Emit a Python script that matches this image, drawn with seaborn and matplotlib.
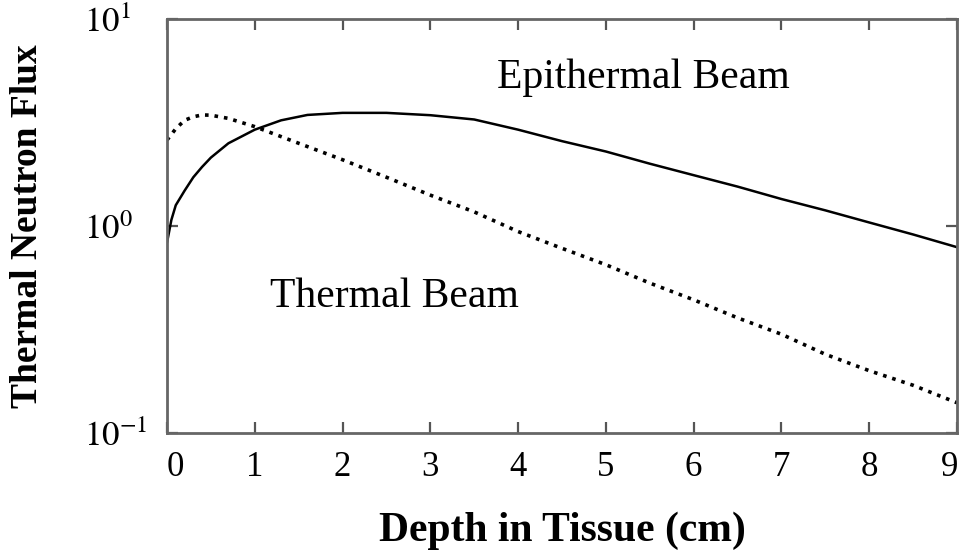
import matplotlib
matplotlib.use("Agg")
import matplotlib.pyplot as plt
import matplotlib.transforms as mtransforms
import seaborn as sns
import pandas as pd

# Thermal beam (dotted curve)
thermal_depth = [0, 0.1, 0.2, 0.3, 0.4, 0.5, 0.7, 1.0, 1.5, 2.0, 2.5, 3.0,
                 3.5, 4.0, 4.5, 5.0, 5.5, 6.0, 6.5, 7.0, 7.5, 8.0, 8.5, 9.0]
thermal_flux = [2.60, 2.95, 3.24, 3.37, 3.44, 3.43, 3.31, 3.02, 2.51, 2.09, 1.72, 1.41,
                1.17, 0.94, 0.78, 0.65, 0.53, 0.44, 0.36, 0.30, 0.24, 0.20, 0.17, 0.14]

# Epithermal beam (solid curve)
epi_depth = [0, 0.05, 0.1, 0.2, 0.3, 0.4, 0.5, 0.7, 1.0, 1.3, 1.6, 2.0, 2.5,
             3.0, 3.5, 4.0, 4.5, 5.0, 5.5, 6.0, 6.5, 7.0, 7.5, 8.0, 8.5, 9.0]
epi_flux = [0.83, 1.07, 1.26, 1.48, 1.72, 1.93, 2.14, 2.51, 2.92, 3.24, 3.44, 3.52, 3.52,
            3.43, 3.27, 2.92, 2.57, 2.29, 2.00, 1.76, 1.55, 1.35, 1.19, 1.04, 0.91, 0.79]

x_ticks = list(range(10))
y_ticks = [0.1, 1, 10]
y_tick_labels = [r"$10^{-1}$", r"$10^{0}$", r"$10^{1}$"]

sns.set_style("white")
plt.rcParams['font.family'] = ['Liberation Serif', 'DejaVu Serif']
plt.rcParams['mathtext.fontset'] = 'stix'
plt.rcParams['text.color'] = 'black'
plt.rcParams['xtick.labelcolor'] = 'black'
plt.rcParams['ytick.labelcolor'] = 'black'
plt.rcParams['axes.labelcolor'] = 'black'

fig = plt.figure(figsize=(9.63, 5.54), dpi=100)
ax = fig.add_axes([0.1734, 0.2184, 0.8204, 0.7473])

thermal = pd.DataFrame({"depth": thermal_depth, "flux": thermal_flux})
epi = pd.DataFrame({"depth": epi_depth, "flux": epi_flux})

sns.lineplot(data=thermal, x="depth", y="flux", ax=ax, color="black",
             lw=2.6, linestyle=":")
sns.lineplot(data=epi, x="depth", y="flux", ax=ax, color="black", lw=1.8)

ax.set_yscale("log")
ax.set_xlim(0, 9)
ax.set_ylim(0.1, 10)
ax.minorticks_off()

ax.set_xticks(x_ticks)
ax.set_xticklabels([str(t) for t in x_ticks], fontsize=25)
ax.set_yticks(y_ticks)
ax.set_yticklabels(y_tick_labels, fontsize=25, ha="left")

ax.tick_params(axis="x", direction="in", length=8, width=1.6, color="#555555",
               top=True, bottom=True, pad=13)
ax.tick_params(axis="y", direction="in", length=8, width=1.6, color="#555555",
               left=True, right=True, pad=60)

# end labels sit slightly inward in the original
xlabels = ax.get_xticklabels()
xlabels[0].set_transform(xlabels[0].get_transform() +
                         mtransforms.ScaledTranslation(8 / 100, 0, fig.dpi_scale_trans))
xlabels[-1].set_transform(xlabels[-1].get_transform() +
                          mtransforms.ScaledTranslation(-7 / 100, 0, fig.dpi_scale_trans))

for s in ax.spines.values():
    s.set_color("#666666")
    s.set_linewidth(2)

ax.set_xlabel("Depth in Tissue (cm)", fontsize=30, fontweight="bold", labelpad=20)
ax.set_ylabel("Thermal Neutron Flux", fontsize=27, fontweight="bold")
ax.yaxis.set_label_coords(-0.155, 0.5)

ax.text(3.76, 5.2, "Epithermal Beam", fontsize=30, ha="left", va="center")
ax.text(1.17, 0.455, "Thermal Beam", fontsize=30, ha="left", va="center")

fig.savefig("out.png", dpi=100)
